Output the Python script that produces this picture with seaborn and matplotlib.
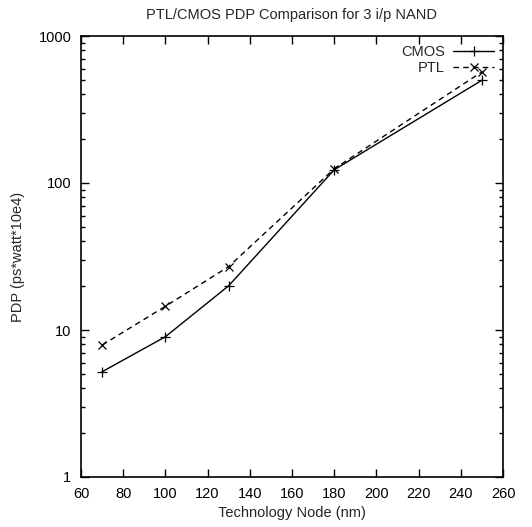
import matplotlib
matplotlib.use("Agg")
import matplotlib.pyplot as plt
import matplotlib.ticker as mticker
import seaborn as sns
import pandas as pd

nodes = [70, 100, 130, 180, 250]
cmos = [5.2, 9.0, 20.0, 123, 500]
ptl = [7.9, 14.5, 27.0, 125, 570]

df_cmos = pd.DataFrame({"node": nodes, "pdp": cmos})
df_ptl = pd.DataFrame({"node": nodes, "pdp": ptl})

sns.set_style("ticks")
plt.rcParams["font.family"] = ["Liberation Sans", "DejaVu Sans"]
FS = 10.5

fig = plt.figure(figsize=(5.32, 5.27), dpi=100)
ax = fig.add_axes([81 / 532, 1 - 477 / 527, (503 - 81) / 532, (477 - 36) / 527])

sns.lineplot(data=df_cmos, x="node", y="pdp", color="black", linestyle="-",
             marker="+", markersize=7, markeredgewidth=0.9,
             markeredgecolor="black", linewidth=1.0, label="CMOS", ax=ax)
sns.lineplot(data=df_ptl, x="node", y="pdp", color="black", linestyle=(0, (4, 3)),
             marker="x", markersize=6, markeredgewidth=0.9,
             markeredgecolor="black", linewidth=1.0, label="PTL", ax=ax)

ax.set_yscale("log")
ax.set_xlim(60, 260)
ax.set_ylim(1, 1000)
ax.set_xticks(range(60, 261, 20))
ax.yaxis.set_major_locator(mticker.FixedLocator([1, 10, 100, 1000]))
ax.yaxis.set_major_formatter(mticker.FuncFormatter(lambda v, p: f"{int(round(v))}"))
ax.yaxis.set_minor_locator(mticker.LogLocator(base=10, subs=range(2, 10)))
ax.yaxis.set_minor_formatter(mticker.NullFormatter())

ax.tick_params(which="both", direction="in", top=True, right=True, labelsize=FS, colors="black")
ax.tick_params(which="major", length=6, width=1, pad=7)
ax.tick_params(which="minor", length=3, width=1)
for s in ax.spines.values():
    s.set_linewidth(1.2)
    s.set_color("black")

ax.set_xlabel("Technology Node (nm)", fontsize=FS, labelpad=4)
ax.set_ylabel("PDP (ps*watt*10e4)", fontsize=FS, labelpad=10)
ax.set_title("PTL/CMOS PDP Comparison for 3 i/p NAND", fontsize=FS, pad=12)

leg = ax.legend(loc="upper right", frameon=False, markerfirst=False,
                fontsize=FS, handlelength=2.8, borderaxespad=0.2,
                labelspacing=0.15, handletextpad=0.6)

fig.savefig("out.png", dpi=100)
